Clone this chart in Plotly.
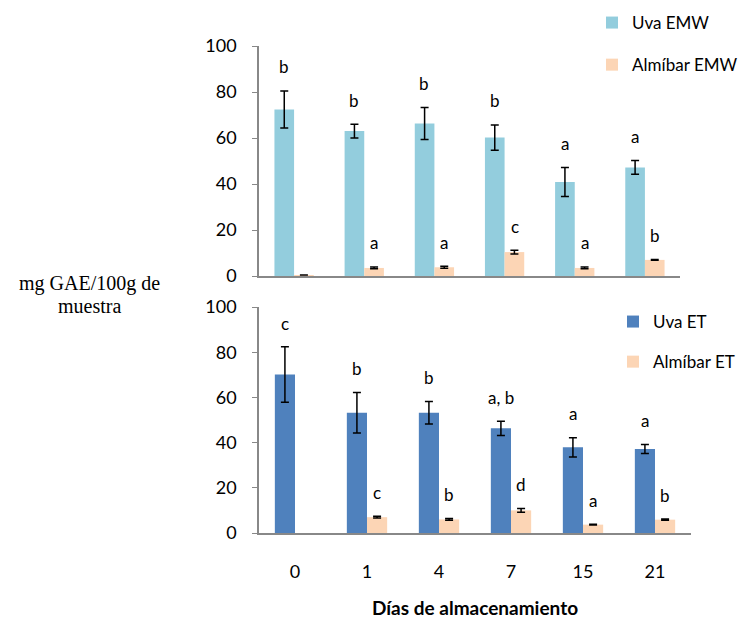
import plotly.graph_objects as go

dias = ["0", "1", "4", "7", "15", "21"]

uva_emw = [72.4, 63.0, 66.3, 60.2, 40.9, 47.2]
uva_emw_err = [8.0, 3.0, 7.0, 5.5, 6.3, 3.0]
alm_emw = [0.4, 3.5, 3.8, 10.4, 3.5, 7.0]
alm_emw_err = [0.0, 0.4, 0.4, 0.8, 0.4, 0.2]
let_uva_emw = ["b", "b", "b", "b", "a", "a"]
let_alm_emw = ["", "a", "a", "c", "a", "b"]

uva_et = [70.1, 53.2, 53.2, 46.3, 37.9, 37.2]
uva_et_err = [12.3, 9.0, 5.0, 3.2, 4.3, 2.0]
alm_et = [None, 7.0, 6.0, 10.0, 3.7, 5.9]
alm_et_err = [0.0, 0.4, 0.4, 0.8, 0.2, 0.3]
let_uva_et = ["c", "b", "b", "a, b", "a", "a"]
let_alm_et = ["", "c", "b", "d", "a", "b"]

y_title_lines = ["mg GAE/100g de", "muestra"]
x_title = "Días de almacenamiento"

C_EMW = "#93CDDD"
C_ALM = "#FCD5B5"
C_ET = "#4F81BD"

# page has an 8px body margin; figure is sized so it ends at the window edge
OFF = 8
W, H = 749 - OFF, 620 - OFF
def px(x):
    return (x - OFF) / W
def py(y):
    return 1 - (y - OFF) / H

LETTER_OFFSET = 10.5
SANS = "Lato, Open Sans, Arial"

def err(arr):
    return dict(type="data", array=arr, visible=True, color="black", thickness=1.5, width=4)

fig = go.Figure()
fig.add_trace(go.Bar(x=dias, y=uva_emw, name="Uva EMW", marker_color=C_EMW,
                     marker_line_width=0, error_y=err(uva_emw_err),
                     xaxis="x", yaxis="y", legend="legend", legendgroup="a"))
fig.add_trace(go.Bar(x=dias, y=alm_emw, name="Almíbar EMW", marker_color=C_ALM,
                     marker_line_width=0, error_y=err(alm_emw_err),
                     xaxis="x", yaxis="y", legend="legend", legendgroup="b"))
fig.add_trace(go.Bar(x=dias, y=uva_et, name="Uva ET", marker_color=C_ET,
                     marker_line_width=0, error_y=err(uva_et_err),
                     xaxis="x2", yaxis="y2", legend="legend2", legendgroup="c"))
fig.add_trace(go.Bar(x=dias, y=alm_et, name="Almíbar ET", marker_color=C_ALM,
                     marker_line_width=0, error_y=err(alm_et_err),
                     xaxis="x2", yaxis="y2", legend="legend2", legendgroup="d"))

annotations = []
def add_letters(vals, errs, letters, xref, yref, shift):
    for i, (v, e, l) in enumerate(zip(vals, errs, letters)):
        if not l or v is None:
            continue
        annotations.append(dict(x=i, y=v + e + LETTER_OFFSET, xref=xref, yref=yref,
                                text=l, showarrow=False, xshift=shift,
                                font=dict(family=SANS, size=17, color="black"),
                                xanchor="center", yanchor="middle"))

add_letters(uva_emw, uva_emw_err, let_uva_emw, "x", "y", -10)
add_letters(alm_emw, alm_emw_err, let_alm_emw, "x", "y", 10)
add_letters(uva_et, uva_et_err, let_uva_et, "x2", "y2", -10)
add_letters(alm_et, alm_et_err, let_alm_et, "x2", "y2", 10)

for line, yy in zip(y_title_lines, [283, 306]):
    annotations.append(dict(x=px(89), y=py(yy), xref="paper", yref="paper",
                            text=line, showarrow=False,
                            xanchor="center", yanchor="middle",
                            font=dict(family="Liberation Serif, Times New Roman", size=20, color="black")))
annotations.append(dict(x=px(475), y=py(607), xref="paper", yref="paper",
                        text="<b>" + x_title + "</b>", showarrow=False,
                        xanchor="center", yanchor="middle",
                        font=dict(family=SANS, size=19, color="black")))

tickfont = dict(family=SANS, size=18, color="black")
yax = dict(range=[0, 100], dtick=20, showgrid=False, showline=True, linecolor="#888888",
           linewidth=1.5, ticks="outside", ticklen=5, tickcolor="#888888", tickfont=tickfont,
           ticklabelstandoff=12, zeroline=False, fixedrange=True, automargin=False)
xax = dict(showgrid=False, showline=True, linecolor="#888888", linewidth=1.5,
           ticks="", tickfont=tickfont, type="category", automargin=False,
           ticklabelstandoff=22)

legfont = dict(family=SANS, size=17, color="black")
fig.update_layout(
    width=W, height=H,
    margin=dict(l=0, r=0, t=0, b=0, autoexpand=False),
    paper_bgcolor="white", plot_bgcolor="white",
    barmode="group", bargap=0.44, bargroupgap=0,
    xaxis=dict(xax, domain=[px(259), px(680)], anchor="y", showticklabels=False),
    yaxis=dict(yax, domain=[py(276), py(46)], anchor="x"),
    xaxis2=dict(xax, domain=[px(259), px(691)], anchor="y2", showticklabels=True),
    yaxis2=dict(yax, domain=[py(533), py(307)], anchor="x2"),
    legend=dict(x=px(592), y=py(5), xanchor="left", yanchor="top",
                font=legfont, tracegroupgap=17, itemwidth=30, bgcolor="rgba(0,0,0,0)"),
    legend2=dict(x=px(613), y=py(304), xanchor="left", yanchor="top",
                 font=legfont, tracegroupgap=15, itemwidth=30, bgcolor="rgba(0,0,0,0)"),
    annotations=annotations,
    showlegend=True,
)

fig.write_html("out.html")
